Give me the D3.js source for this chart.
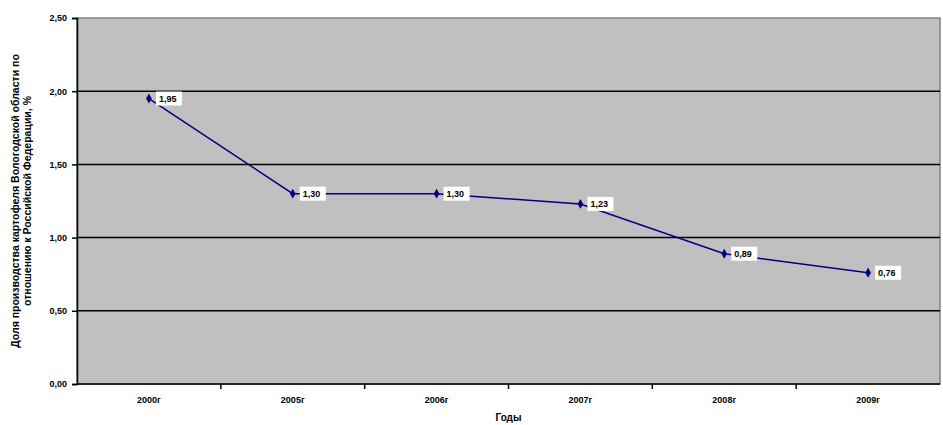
<!DOCTYPE html>
<html>
<head>
<meta charset="utf-8">
<script src="https://cdn.jsdelivr.net/npm/d3@7"></script>
<style>
  body { margin: 0; background: #fff; }
  text { font-family: "Liberation Sans", Arial, sans-serif; font-weight: bold; }
</style>
</head>
<body>
<div id="chart"></div>
<script>
// Data
var years = ["2000г", "2005г", "2006г", "2007г", "2008г", "2009г"];
var shares = [1.95, 1.30, 1.30, 1.23, 0.89, 0.76];
var yTicks = [0, 0.5, 1, 1.5, 2, 2.5];

var svgWidth = 943;
var svgHeight = 425;

var margin = { top: 18, right: 3, bottom: 41, left: 77 };
var width = svgWidth - margin.left - margin.right;
var height = svgHeight - margin.top - margin.bottom;

var svg = d3.select("#chart")
    .append("svg")
    .attr("width", svgWidth)
    .attr("height", svgHeight);

var chartGroup = svg.append("g")
    .attr("transform", `translate(${margin.left}, ${margin.top})`);

var xScale = d3.scaleBand()
    .domain(years)
    .range([0, width]);

var yScale = d3.scaleLinear()
    .domain([0, 2.5])
    .range([height, 0]);

var fmt = d => d3.format(".2f")(d).replace(".", ",");

// plot area
chartGroup.append("rect")
    .attr("width", width)
    .attr("height", height)
    .attr("fill", "#c0c0c0")
    .attr("stroke", "#808080")
    .attr("stroke-width", 1.5);

// gridlines
chartGroup.selectAll(".grid")
    .data(yTicks.filter(d => d > 0 && d < 2.5))
    .enter()
    .append("line")
    .attr("x1", 0)
    .attr("x2", width)
    .attr("y1", d => yScale(d))
    .attr("y2", d => yScale(d))
    .attr("stroke", "#000")
    .attr("stroke-width", 1.5);

// y axis
var leftAxis = d3.axisLeft(yScale)
    .tickValues(yTicks)
    .tickFormat(fmt)
    .tickSize(5)
    .tickPadding(5);

var yAxis = chartGroup.append("g").call(leftAxis);
yAxis.select(".domain").attr("stroke", "#000").attr("stroke-width", 1.5);
yAxis.selectAll(".tick line").attr("stroke-width", 1.5);
yAxis.selectAll("text").attr("font-size", 9).attr("font-family", "Liberation Sans, Arial").attr("font-weight", "bold");

// x axis: ticks between categories
var xAxisGroup = chartGroup.append("g")
    .attr("transform", `translate(0, ${height})`);
xAxisGroup.append("line")
    .attr("x1", 0).attr("x2", width)
    .attr("stroke", "#000").attr("stroke-width", 1.5);
xAxisGroup.selectAll(".xtick")
    .data(years.slice(1))
    .enter()
    .append("line")
    .attr("x1", d => xScale(d))
    .attr("x2", d => xScale(d))
    .attr("y1", 0)
    .attr("y2", 5)
    .attr("stroke", "#000")
    .attr("stroke-width", 1.5);
xAxisGroup.selectAll(".xlabel")
    .data(years)
    .enter()
    .append("text")
    .attr("x", d => xScale(d) + xScale.bandwidth() / 2)
    .attr("y", 19)
    .attr("text-anchor", "middle")
    .attr("font-size", 9)
    .text(d => d);

// axis titles
chartGroup.append("text")
    .attr("x", width / 2)
    .attr("y", height + 37)
    .attr("text-anchor", "middle")
    .attr("font-size", 10)
    .text("Годы");

var yLabel = svg.append("text")
    .attr("transform", `translate(19, ${margin.top + height / 2}) rotate(-90)`)
    .attr("text-anchor", "middle")
    .attr("font-size", 10.5);
yLabel.append("tspan")
    .attr("x", 0).attr("dy", 0)
    .text("Доля производства картофеля Вологодской области по");
yLabel.append("tspan")
    .attr("x", 0).attr("dy", 12)
    .text("отношению к Российской Федерации, %");

// line
var line = d3.line()
    .x((d, i) => xScale(years[i]) + xScale.bandwidth() / 2)
    .y(d => yScale(d));

chartGroup.append("path")
    .datum(shares)
    .attr("d", line)
    .attr("fill", "none")
    .attr("stroke", "#000080")
    .attr("stroke-width", 1.5);

// markers
chartGroup.selectAll(".marker")
    .data(shares)
    .enter()
    .append("path")
    .attr("d", d3.symbol().type(d3.symbolDiamond).size(28))
    .attr("transform", (d, i) => `translate(${xScale(years[i]) + xScale.bandwidth() / 2}, ${yScale(d)})`)
    .attr("fill", "#000080");

// data labels
var labels = chartGroup.selectAll(".dlabel")
    .data(shares)
    .enter()
    .append("g")
    .attr("transform", (d, i) => `translate(${xScale(years[i]) + xScale.bandwidth() / 2 + 7}, ${yScale(d)})`);
labels.append("rect")
    .attr("x", 0)
    .attr("y", -7)
    .attr("width", 26)
    .attr("height", 14)
    .attr("fill", "#fff");
labels.append("text")
    .attr("x", 3)
    .attr("y", 3.5)
    .attr("font-size", 9)
    .text(d => fmt(d));
</script>
</body>
</html>
